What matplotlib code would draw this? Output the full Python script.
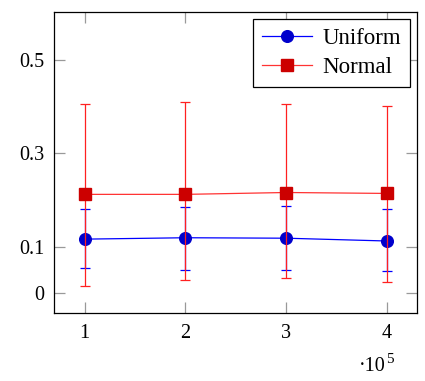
import matplotlib
matplotlib.use("Agg")
import matplotlib.pyplot as plt
from matplotlib.lines import Line2D
import numpy as np

plt.rcParams['font.family'] = ['Liberation Serif', 'DejaVu Serif']

x = [1, 2, 3, 4]
uniform_mean = [0.116, 0.119, 0.118, 0.112]
uniform_low = [0.055, 0.049, 0.050, 0.047]
uniform_high = [0.180, 0.184, 0.188, 0.181]
normal_mean = [0.212, 0.212, 0.216, 0.214]
normal_low = [0.016, 0.029, 0.032, 0.024]
normal_high = [0.405, 0.411, 0.406, 0.401]
xticks = [1, 2, 3, 4]
yticks = [0, 0.1, 0.3, 0.5]

fig = plt.figure(figsize=(4.25, 3.81), dpi=100)
ax = fig.add_axes([54.3/425, 1 - 313.3/381, (417.3-54.3)/425, (313.3-12)/381])

um = np.array(uniform_mean)
nm = np.array(normal_mean)
uerr = [um - np.array(uniform_low), np.array(uniform_high) - um]
nerr = [nm - np.array(normal_low), np.array(normal_high) - nm]

ustyle = dict(color='#0000ff', lw=0.9, marker='o', ms=8.4, mfc='#0000cc', mec='#0000cc')
nstyle = dict(color='#ff3333', lw=0.9, marker='s', ms=8.0, mfc='#cc0000', mec='#cc0000')

ax.errorbar(x, uniform_mean, yerr=uerr, ecolor='#0000ff',
            elinewidth=0.9, capsize=3.6, capthick=0.9, zorder=3, **ustyle)
ax.errorbar(x, normal_mean, yerr=nerr, ecolor='#ff2020',
            elinewidth=0.9, capsize=3.6, capthick=0.9, zorder=4, **nstyle)

ax.set_xlim(0.7, 4.3)
ax.set_ylim(-0.043, 0.603)
ax.set_xticks(xticks)
ax.set_xticklabels([str(t) for t in xticks])
ax.set_yticks(yticks)
ax.set_yticklabels(['0', '0.1', '0.3', '0.5'])
ax.tick_params(direction='in', length=8, width=0.9, color='#999999',
               top=True, right=True, labelsize=14.5)
ax.tick_params(axis='y', pad=7)
ax.tick_params(axis='x', pad=8)
for s in ax.spines.values():
    s.set_linewidth(0.9)

fig.text(386/425, 1 - 371/381, '\u00b710', ha='right', va='baseline', fontsize=14.5)
fig.text(386/425, 1 - 363/381, '5', ha='left', va='baseline', fontsize=11)

handles = [Line2D([], [], **ustyle), Line2D([], [], **nstyle)]
leg = ax.legend(handles, ['Uniform', 'Normal'], loc='upper right', fontsize=16.5,
                fancybox=False, edgecolor='black', framealpha=1, handlelength=2.2,
                borderpad=0.4, labelspacing=0.35, handletextpad=0.45, borderaxespad=0.3)
leg.get_frame().set_linewidth(0.9)

fig.savefig('out.png', dpi=100)
